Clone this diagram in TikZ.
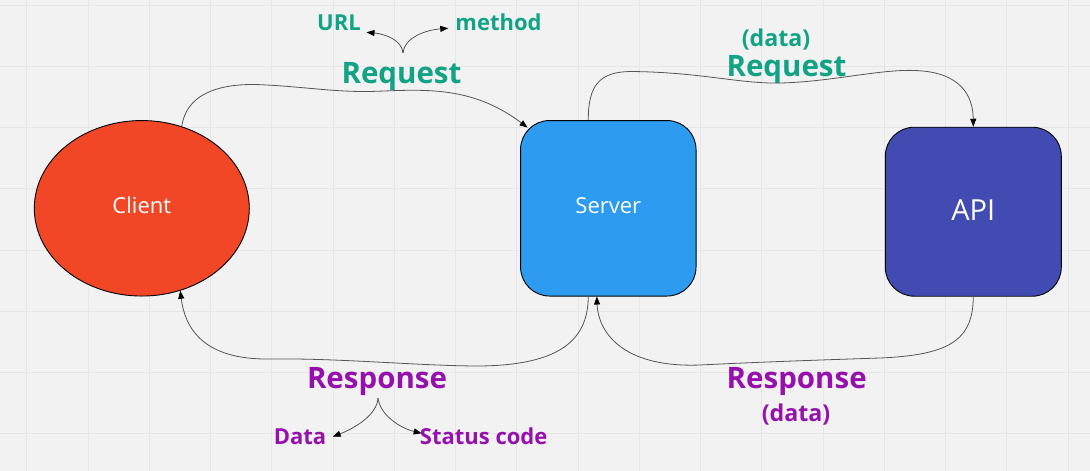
\documentclass[tikz,border=0pt]{standalone}
\usepackage{fontspec}
\setmainfont{Open Sans}
\usetikzlibrary{arrows.meta,calc,shapes.geometric}
\definecolor{bgc}{HTML}{F2F2F2}
\definecolor{gridc}{HTML}{E6E6E6}
\definecolor{clientc}{HTML}{F24726}
\definecolor{serverc}{HTML}{2D9BF0}
\definecolor{apic}{HTML}{414BB2}
\definecolor{greenc}{HTML}{12A386}
\definecolor{purplec}{HTML}{9510AC}
\definecolor{linec}{HTML}{555555}
\tikzset{
  shapetext/.style={inner sep=0pt, text=white, font=\fontsize{22}{26}\selectfont, text height=16pt, text depth=5pt},
  boxnode/.style={shapetext, draw=black, line width=0.9pt, rounded corners=29pt},
  conn/.style={draw=linec, line width=0.8pt, -{Triangle[length=8pt,width=6pt,color=black]}},
  reqlabel/.style={anchor=base, text=greenc, font=\bfseries\fontsize{29.5}{34}\selectfont, inner sep=0pt},
  reslabel/.style={anchor=base, text=purplec, font=\bfseries\fontsize{29.5}{34}\selectfont, inner sep=0pt},
  reqsmall/.style={anchor=base, text=greenc, font=\bfseries\fontsize{22}{26}\selectfont, inner sep=0pt},
  ressmall/.style={anchor=base, text=purplec, font=\bfseries\fontsize{22}{26}\selectfont, inner sep=0pt},
  datasize/.style={font=\bfseries\fontsize{23.2}{27}\selectfont},
}
\begin{document}
\begin{tikzpicture}[x=1pt,y=-1pt]
\fill[bgc] (0,0) rectangle (1090,471);
\useasboundingbox (0,0) rectangle (1090,471);
\foreach \i in {0,...,17} {\draw[gridc, line width=0.8pt] ({26.7+61.25*\i},0) -- ({26.7+61.25*\i},471);}
\foreach \j in {0,...,7} {\draw[gridc, line width=0.8pt] (0,{5+61.25*\j}) -- (1090,{5+61.25*\j});}

% nodes
\node[shapetext, ellipse, draw=black, line width=0.9pt, fill=clientc, minimum width=215pt, minimum height=175.5pt] (client) at (141.8,208.3) {Client};
\node[boxnode, fill=serverc, minimum width=175.5pt, minimum height=175.5pt] (server) at (608.3,208.3) {Server};
\node[boxnode, fill=apic, minimum width=176pt, minimum height=169pt, font=\fontsize{29}{33}\selectfont, text height=21pt, text depth=4.3pt] (api) at (973.3,211.7) {API};

% labels
\node[reqlabel] (req1) at (401.5,83.3) {Request};
\node[reqsmall] (url) at (339,30) {URL};
\node[reqsmall] (method) at (498.5,30) {method};
\node[reqlabel] (req2) at (786.5,76.7) {Request};
\node[reqsmall, datasize] (data1) at (776,46.5) {(data)};
\node[reslabel] (res1) at (377,388.3) {Response};
\node[ressmall] (data) at (300,444) {Data};
\node[ressmall] (status) at (483.7,444) {Status code};
\node[reslabel] (res2) at (796.7,388.3) {Response};
\node[ressmall, datasize] (data2) at (796,421.5) {(data)};

% connector end points
\coordinate (srvcorner) at ($(server.north west)+(7.5,7.5)$);
\coordinate (fork1) at (403,53);
\coordinate (fork2) at (378,398);
\coordinate (urltip) at (366.5,32.3);
\coordinate (methodtip) at (448.3,28.3);
\coordinate (datatip) at (332.7,436.7);
\coordinate (statustip) at (421.7,433.3);

% connectors
\draw[conn] (client.64.5) .. controls (186,96) and (215,84) .. (255,84.5)
  .. controls (300,86) and (330,92) .. (370,91.5)
  .. controls (420,90) and (470,84) .. (srvcorner);
\draw[conn] ([xshift=-20pt]server.north) .. controls (588,85) and (600,72) .. (630,71.5)
  .. controls (700,72) and (740,84) .. (780,83)
  .. controls (830,82) and (880,69) .. (915,70.5)
  .. controls (960,72) and (973,95) .. (api.north);
\draw[conn] ([xshift=-20pt]server.south) .. controls (588,340) and (560,365) .. (480,366)
  .. controls (420,366) and (340,358) .. (270,359)
  .. controls (203,360) and (185,328) .. (client.-65);
\draw[conn] (api.south) .. controls (973,340) and (950,355) .. (880,358)
  .. controls (820,360) and (760,362) .. (700,365)
  .. controls (620,368) and (598,330) .. ([xshift=-11.5pt]server.south);

% small forks
\draw[conn] (fork1) .. controls (402,40) and (385,34) .. (urltip);
\draw[conn] (fork1) .. controls (404,38) and (425,30) .. (methodtip);
\draw[conn] (fork2) .. controls (377,415) and (355,428) .. (datatip);
\draw[conn] (fork2) .. controls (380,415) and (400,428) .. (statustip);
\end{tikzpicture}
\end{document}
